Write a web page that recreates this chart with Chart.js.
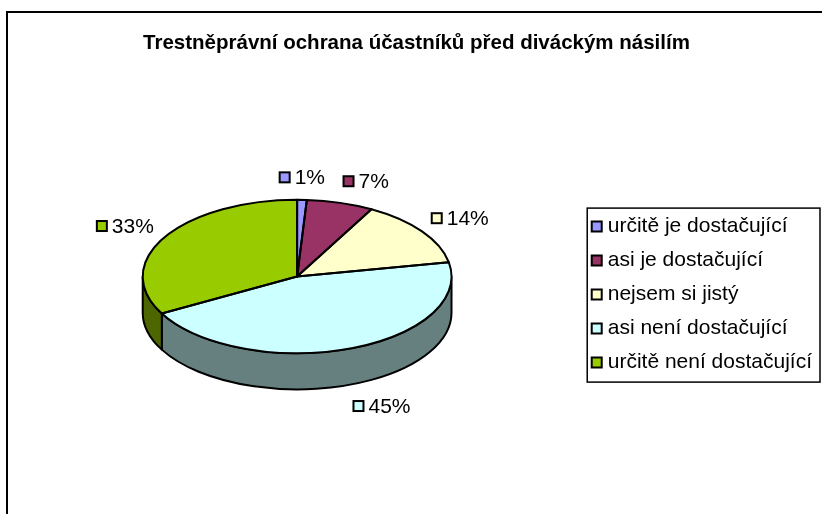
<!DOCTYPE html>
<html>
<head>
<meta charset="utf-8">
<script src="https://cdn.jsdelivr.net/npm/chart.js@4.4.0/dist/chart.umd.min.js"></script>
<style>
  html, body { margin: 0; padding: 0; background: #fff; overflow: hidden; }
  canvas { display: block; }
</style>
</head>
<body>
<canvas id="ochranaChart" width="822" height="514"></canvas>
<script>
// data
const chartTitle = 'Trestněprávní ochrana účastníků před diváckým násilím';
const categories = ['určitě je dostačující', 'asi je dostačující', 'nejsem si jistý', 'asi není dostačující', 'určitě není dostačující'];
const percentValues = [1, 7, 14, 45, 33];
const sliceColors = ['#9999ff', '#993366', '#ffffcc', '#ccffff', '#99cc00'];

const FONT = "'Liberation Sans', Arial, sans-serif";
const TILT = 0.497;        // vertical squash of the pie
const DEPTH_RATIO = 0.234; // side wall height relative to radius

function shade(hex, f) {
    const n = parseInt(hex.slice(1), 16);
    const r = Math.round(((n >> 16) & 255) * f);
    const g = Math.round(((n >> 8) & 255) * f);
    const b = Math.round((n & 255) * f);
    return `rgb(${r},${g},${b})`;
}

function pieGeometry(chart) {
    const meta = chart.getDatasetMeta(0);
    const first = meta.data[0];
    const r = first.outerRadius;
    const depth = r * DEPTH_RATIO;
    return { meta, cx: first.x, cy: first.y, r, ry: r * TILT, depth, top: first.y - depth / 2 };
}

function drawPercentLabels(chart, g) {
    const ctx = chart.ctx;
    const total = percentValues.reduce((a, b) => a + b, 0);
    const placed = [];
    ctx.save();
    ctx.font = `21px ${FONT}`;
    ctx.textBaseline = 'middle';
    ctx.lineWidth = 2;
    g.meta.data.forEach((arc, i) => {
        const text = Math.round(percentValues[i] / total * 100) + '%';
        const a = (arc.startAngle + arc.endAngle) / 2;
        const c = Math.cos(a), s = Math.sin(a);
        const gap = 12, h = 21;
        const ax = g.cx + (g.r + gap) * c;
        const ay = g.top + (g.ry + gap) * s + (s > 0 ? g.depth : 0);
        const w = 10 + 5 + ctx.measureText(text).width;
        let left = c > 0.1 ? ax : (c < -0.1 ? ax - w : ax - w / 2);
        const my = ay + s * h / 2;
        placed.forEach(p => {
            if (left < p.right + 14 && left + w > p.left - 14 && Math.abs(my - p.my) < h) {
                left = c >= 0 ? p.right + 14 : p.left - 14 - w;
            }
        });
        placed.push({ left, right: left + w, my });
        ctx.fillStyle = sliceColors[i];
        ctx.fillRect(left, my - 5, 10, 10);
        ctx.strokeStyle = '#000';
        ctx.strokeRect(left, my - 5, 10, 10);
        ctx.fillStyle = '#000';
        ctx.fillText(text, left + 15, my + 1);
    });
    ctx.restore();
}

const pie3d = {
    id: 'pie3d',
    beforeDraw(chart) {
        const ctx = chart.ctx;
        ctx.save();
        ctx.fillStyle = '#fff';
        ctx.fillRect(0, 0, chart.width, chart.height);
        ctx.strokeStyle = '#000';
        ctx.lineWidth = 2;
        ctx.strokeRect(7, 12, chart.width + 20, chart.height + 20);
        ctx.restore();
    },
    beforeDatasetsDraw(chart) {
        const ctx = chart.ctx;
        const g = pieGeometry(chart);
        ctx.save();
        ctx.lineWidth = 2;
        ctx.strokeStyle = '#000';
        ctx.lineJoin = 'round';
        // outer side walls, only the front half is visible
        g.meta.data.forEach((arc, i) => {
            const s = Math.max(arc.startAngle, 0);
            const e = Math.min(arc.endAngle, Math.PI);
            if (e <= s) return;
            ctx.beginPath();
            ctx.ellipse(g.cx, g.top, g.r, g.ry, 0, s, e);
            ctx.ellipse(g.cx, g.top + g.depth, g.r, g.ry, 0, e, s, true);
            ctx.closePath();
            ctx.fillStyle = shade(sliceColors[i], 0.5);
            ctx.fill();
            ctx.stroke();
        });
        ctx.restore();
        // squash the library's circle onto the top face
        ctx.save();
        ctx.translate(g.cx, g.top);
        ctx.scale(1, TILT);
        ctx.translate(-g.cx, -g.cy);
    },
    afterDatasetsDraw(chart) {
        const ctx = chart.ctx;
        ctx.restore();
        const g = pieGeometry(chart);
        ctx.save();
        ctx.lineWidth = 2;
        ctx.strokeStyle = '#000';
        ctx.lineJoin = 'round';
        g.meta.data.forEach(arc => {
            ctx.beginPath();
            ctx.moveTo(g.cx, g.top);
            ctx.ellipse(g.cx, g.top, g.r, g.ry, 0, arc.startAngle, arc.endAngle);
            ctx.closePath();
            ctx.stroke();
        });
        ctx.restore();
        drawPercentLabels(chart, g);
    },
    afterDraw(chart) {
        const lg = chart.legend;
        const boxes = lg.legendHitBoxes;
        if (!boxes || !boxes.length) return;
        const ctx = chart.ctx;
        const top = boxes[0].top - 8;
        const bottom = boxes[boxes.length - 1].top + boxes[boxes.length - 1].height + 9;
        ctx.save();
        ctx.strokeStyle = '#000';
        ctx.lineWidth = 1.5;
        ctx.strokeRect(lg.left + 4, top, chart.width - 2 - (lg.left + 4), bottom - top);
        ctx.restore();
    }
};

new Chart(document.getElementById('ochranaChart'), {
    type: 'pie',
    data: {
        labels: categories,
        datasets: [{
            data: percentValues,
            backgroundColor: sliceColors,
            borderWidth: 0,
            hoverOffset: 0,
            clip: false
        }]
    },
    options: {
        responsive: false,
        animation: false,
        layout: {
            padding: { left: 11, right: 0, top: 15, bottom: 65 }
        },
        plugins: {
            title: {
                display: true,
                text: chartTitle,
                color: '#000',
                font: { family: FONT, size: 20.5, weight: 'bold' },
                padding: { top: 16, bottom: 84.6 }
            },
            legend: {
                position: 'right',
                fullSize: false,
                labels: {
                    color: '#000',
                    font: { family: FONT, size: 21 },
                    usePointStyle: true,
                    boxWidth: 1,
                    boxHeight: 10,
                    padding: 13,
                    generateLabels: () => categories.map((text, i) => ({
                        text,
                        fillStyle: sliceColors[i],
                        strokeStyle: '#000',
                        lineWidth: 2,
                        pointStyle: 'rect',
                        hidden: false,
                        index: i,
                        datasetIndex: 0
                    }))
                }
            },
            tooltip: { enabled: false }
        }
    },
    plugins: [pie3d]
});
</script>
</body>
</html>
